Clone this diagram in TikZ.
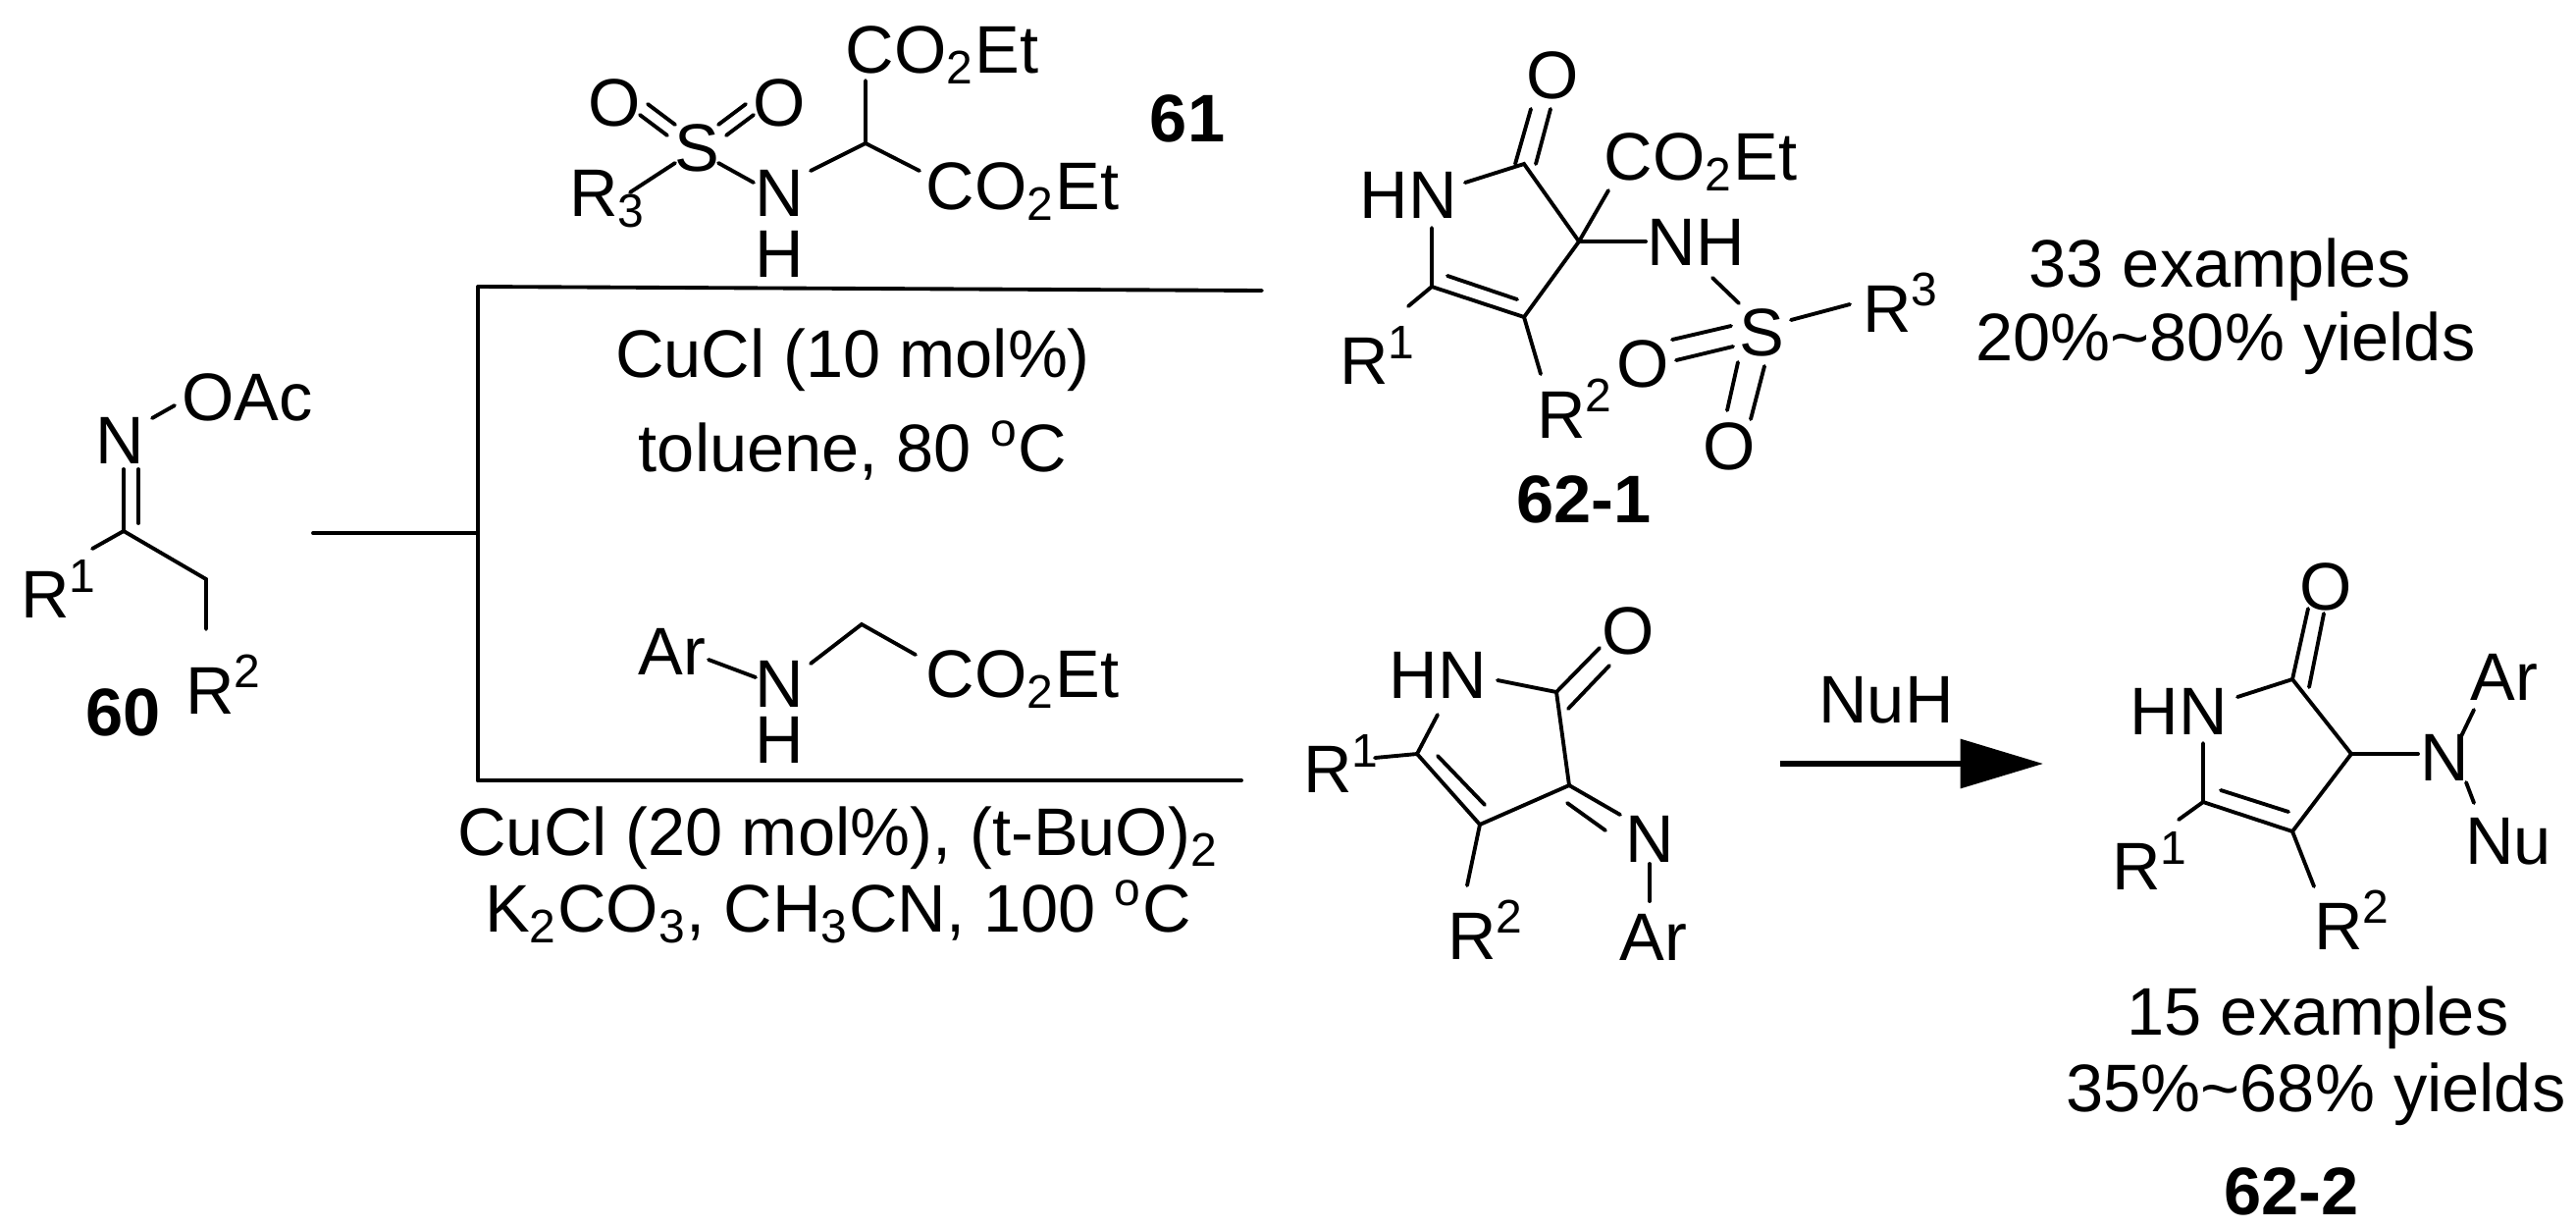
\documentclass[tikz,border=0pt]{standalone}
\usepackage{fontspec}
\setmainfont{Liberation Sans}
\usetikzlibrary{arrows.meta}
\newcommand\Rsup[1]{R\rlap{\textsuperscript{#1}}}
\newcommand\Rsub[1]{R\rlap{\textsubscript{#1}}}
\tikzset{
  lab/.style={inner sep=0pt, font=\fontsize{19.5}{23}\selectfont},
  boldlab/.style={inner sep=0pt, font=\fontsize{19.5}{23}\selectfont\bfseries},
  bond/.style={line width=1.1pt, line cap=round},
}
\begin{document}
\begin{tikzpicture}[x=0.01cm,y=-0.01cm]
\useasboundingbox (0,0) rectangle (2625,1251);
% ---- 60
\node[lab] (n60) at (122,449) {N};
\node[lab] (oac60) at (252,405) {OAc};
\node[lab] (r160) at (46,600) {\Rsup{1}};
\node[lab] (r260) at (214,697) {\Rsup{2}};
\node[boldlab] (l60) at (126,726) {60};
\draw[bond] (155,426) -- (178,413);
\draw[bond] (126,478) -- (126,541);
\draw[bond] (141,478) -- (141,533);
\draw[bond] (126,541) -- (94,559);
\draw[bond] (126,541) -- (210,590) -- (210,641);
% ---- reaction lines
\coordinate (j) at (487,543);
\draw[bond] (319,543) -- (j);
\draw[bond] (487,292) -- (487,795);
\draw[bond] (487,292) -- (1286,296);
\draw[bond] (487,795) -- (1265,795);
\node[lab] (c1) at (869,367) {CuCl (10 mol\%)};
\node[lab] (c2) at (869,459) {toluene, 80 \textsuperscript{o}C};
\node[lab] (c3) at (854,854) {CuCl (20 mol\%), (t-BuO)\textsubscript{2}};
\node[lab] (c4) at (854,929) {K\textsubscript{2}CO\textsubscript{3}, CH\textsubscript{3}CN, 100 \textsuperscript{o}C};
% ---- 61
\node[lab] (o61a) at (626,105) {O};
\node[lab] (o61b) at (794,105) {O};
\node[lab] (s61) at (710,151) {S};
\node[lab] (r361) at (605,203) {\Rsub{3}};
\node[lab] (n61) at (794,197) {N};
\node[lab] (h61) at (794,259) {H};
\node[lab] (e61a) at (960,56) {CO\textsubscript{2}Et};
\node[lab] (e61b) at (1042,195) {CO\textsubscript{2}Et};
\node[boldlab] (l61) at (1210,121) {61};
\draw[bond] (660,106) -- (688,127);
\draw[bond] (652,117) -- (680,138);
\draw[bond] (760,106) -- (732,127);
\draw[bond] (768,117) -- (740,138);
\draw[bond] (688,166) -- (642,196);
\draw[bond] (732,166) -- (768,186);
\draw[bond] (826,174) -- (882,146) -- (882,82);
\draw[bond] (882,146) -- (937,174);
% ---- reagent bottom
\node[lab] (ar2) at (685,664) {Ar};
\node[lab] (n2) at (794,697) {N};
\node[lab] (h2) at (794,754) {H};
\node[lab] (e2) at (1042,692) {CO\textsubscript{2}Et};
\draw[bond] (722,672) -- (770,690);
\draw[bond] (826,676) -- (878,636) -- (933,667);
% ---- 62-1
\node[lab] (o1) at (1582,77) {O};
\node[lab] (hn1) at (1435,199) {HN};
\node[lab] (e1) at (1733,165) {CO\textsubscript{2}Et};
\node[lab] (nh1) at (1728,247) {NH};
\node[lab] (r11) at (1390,362) {\Rsup{1}};
\node[lab] (r21) at (1591,416) {\Rsup{2}};
\node[lab] (s1) at (1795,339) {S};
\node[lab] (r31) at (1923,308) {\Rsup{3}};
\node[lab] (os1) at (1674,371) {O};
\node[lab] (os2) at (1762,455) {O};
\node[boldlab] (l621) at (1614,509) {62-1};
\node[lab] (ex1) at (2262,275) {33 examples};
\node[lab] (y1) at (2268,350) {20\%\textasciitilde80\% yields};
\draw[bond] (1560,111) -- (1544,167);
\draw[bond] (1580,111) -- (1565,167);
\draw[bond] (1493,186) -- (1553,167) -- (1609,246) -- (1553,323) -- (1459,292) -- (1459,232);
\draw[bond] (1475,281) -- (1546,305);
\draw[bond] (1609,246) -- (1639,194);
\draw[bond] (1609,246) -- (1677,246);
\draw[bond] (1459,292) -- (1435,312);
\draw[bond] (1553,323) -- (1570,381);
\draw[bond] (1745,283) -- (1772,309);
\draw[bond] (1825,326) -- (1885,310);
\draw[bond] (1704,346) -- (1764,332);
\draw[bond] (1708,367) -- (1766,353);
\draw[bond] (1771,369) -- (1760,418);
\draw[bond] (1798,373) -- (1784,427);
% ---- imine
\node[lab] (hn2) at (1465,688) {HN};
\node[lab] (o2) at (1659,643) {O};
\node[lab] (ni) at (1681,855) {N};
\node[lab] (ari) at (1685,955) {Ar};
\node[lab] (r1i) at (1353,778) {\Rsup{1}};
\node[lab] (r2i) at (1500,947) {\Rsup{2}};
\draw[bond] (1526,693) -- (1586,705) -- (1599,800) -- (1508,840) -- (1444,768) -- (1465,728);
\draw[bond] (1465,770) -- (1513,820);
\draw[bond] (1586,705) -- (1630,660);
\draw[bond] (1598,722) -- (1640,678);
\draw[bond] (1599,800) -- (1651,830);
\draw[bond] (1597,818) -- (1636,846);
\draw[bond] (1681,880) -- (1681,918);
\draw[bond] (1444,768) -- (1401,772);
\draw[bond] (1508,840) -- (1495,902);
% ---- arrow
\node[lab] (nuh) at (1922,713) {NuH};
\draw[line width=1.6pt,-{Triangle[length=24pt,width=14pt]}] (1814,778) -- (2082,778);
% ---- 62-2
\node[lab] (o3) at (2370,598) {O};
\node[lab] (hn3) at (2220,725) {HN};
\node[lab] (n3) at (2491,772) {N};
\node[lab] (ar3) at (2552,690) {Ar};
\node[lab] (nu3) at (2556,857) {Nu};
\node[lab] (r13) at (2177,877) {\Rsup{1}};
\node[lab] (r23) at (2383,937) {\Rsup{2}};
\node[lab] (ex2) at (2362,1037) {15 examples};
\node[lab] (y2) at (2360,1115) {35\%\textasciitilde68\% yields};
\node[boldlab] (l622) at (2335,1214) {62-2};
\draw[bond] (2280,710) -- (2336,692) -- (2396,768) -- (2336,847) -- (2245,817) -- (2245,757);
\draw[bond] (2263,805) -- (2332,827);
\draw[bond] (2336,692) -- (2352,620);
\draw[bond] (2353,700) -- (2368,625);
\draw[bond] (2396,768) -- (2464,768);
\draw[bond] (2508,750) -- (2521,723);
\draw[bond] (2513,797) -- (2521,818);
\draw[bond] (2245,817) -- (2220,835);
\draw[bond] (2336,847) -- (2358,903);
\end{tikzpicture}
\end{document}
